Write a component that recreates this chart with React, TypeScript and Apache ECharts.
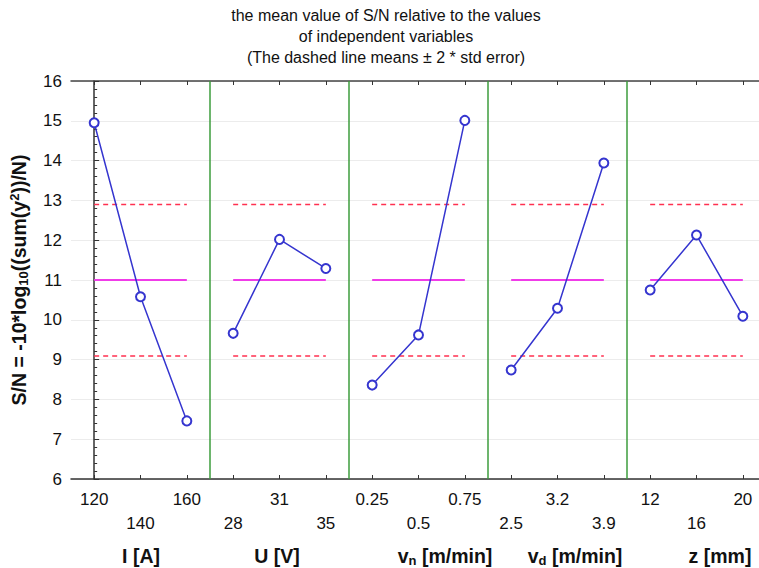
import React, { useEffect, useRef } from "react";
import * as echarts from "echarts";

const categories = ["120", "140", "160", "28", "31", "35", "0.25", "0.5", "0.75", "2.5", "3.2", "3.9", "12", "16", "20"];
const snI = [14.95, 10.58, 7.46];
const snU = [9.66, 12.02, 11.29];
const snVn = [8.36, 9.62, 15.01];
const snVd = [8.74, 10.29, 13.94];
const snZ = [10.75, 12.13, 10.09];
const panels = [snI, snU, snVn, snVd, snZ];
const meanSN = 11.0;
const upperLimit = 12.9;
const lowerLimit = 9.09;
const dividers = [2.5, 5.5, 8.5, 11.5];
const titleLines = [
  "the mean value of S/N relative to the values",
  "of independent variables",
  "(The dashed line means \u00b1 2 * std error)",
];

const FONT = "'Liberation Sans', Arial, sans-serif";
const BLUE = "#3535cf";
const MAGENTA = "#f03ce8";
const RED = "#ff3050";
const GREEN = "#3d9c3d";

export default function App() {
  const ref = useRef<HTMLDivElement>(null);
  useEffect(() => {
    const chart = echarts.init(ref.current!, null, { renderer: "svg" });
    const series: any[] = [];
    panels.forEach((vals, p) => {
      const x0 = p * 3;
      series.push({
        type: "line",
        xAxisIndex: 1,
        yAxisIndex: 0,
        data: vals.map((v, i) => [x0 + i, v]),
        symbol: "emptyCircle",
        symbolSize: 9,
        color: BLUE,
        lineStyle: { color: BLUE, width: 1.5 },
        itemStyle: { color: BLUE, borderWidth: 1.5 },
        z: 5,
      });
      series.push({
        type: "line",
        xAxisIndex: 1,
        data: [[x0, meanSN], [x0 + 2, meanSN]],
        symbol: "none",
        lineStyle: { color: MAGENTA, width: 1.8 },
        z: 3,
      });
      [upperLimit, lowerLimit].forEach((lv) => {
        series.push({
          type: "line",
          xAxisIndex: 1,
          data: [[x0, lv], [x0 + 2, lv]],
          symbol: "none",
          lineStyle: { color: RED, width: 1.5, type: [5, 4] },
          z: 3,
        });
      });
    });
    series.push({
      type: "line",
      xAxisIndex: 1,
      data: [],
      markLine: {
        silent: true,
        symbol: "none",
        label: { show: false },
        lineStyle: { color: GREEN, width: 1.5, type: "solid" },
        data: dividers.map((d) => ({ xAxis: d })),
      },
    });

    const nameStyle = { fontFamily: FONT, fontSize: 19.5, fontWeight: "bold", fill: "#111" };
    const subRich = { sub: { fontFamily: FONT, fontSize: 13, fontWeight: "bold", fill: "#111", padding: [9, 0, 0, 0] } };
    const axisNames = [
      { text: "I [A]", x: 141 },
      { text: "U [V]", x: 277 },
      { text: "v{sub|n} [m/min]", x: 445 },
      { text: "v{sub|d} [m/min]", x: 575 },
      { text: "z [mm]", x: 720 },
    ];

    chart.setOption({
      animation: false,
      backgroundColor: "#ffffff",
      grid: { left: 71, top: 81, right: 0, bottom: 89, containLabel: false },
      xAxis: [
        {
          type: "category",
          data: categories,
          boundaryGap: true,
          position: "bottom",
          axisLine: { show: true, lineStyle: { color: "#333", width: 1.5 } },
          axisTick: { show: true, inside: true, alignWithLabel: true, length: 4, lineStyle: { color: "#333" } },
          axisLabel: {
            interval: 0,
            margin: 8,
            fontFamily: FONT,
            fontSize: 17,
            color: "#111",
            lineHeight: 24,
            hideOverlap: false,
            formatter: (v: string, i: number) => (i % 2 === 0 ? v : "\n" + v),
          },
          splitLine: { show: false },
        },
        {
          type: "value",
          min: -0.5,
          max: 14.5,
          show: false,
        },
        {
          type: "category",
          data: categories,
          boundaryGap: true,
          position: "top",
          axisLine: { show: true, lineStyle: { color: "#444", width: 1.5 } },
          axisTick: { show: true, inside: true, alignWithLabel: true, length: 4, lineStyle: { color: "#333" } },
          axisLabel: { show: false },
          splitLine: { show: false },
        },
      ],
      yAxis: [
        {
          type: "value",
          min: 6,
          max: 16,
          interval: 1,
          axisLine: { show: true, lineStyle: { color: "#333", width: 1.5 } },
          axisTick: { show: true, inside: true, length: 5, lineStyle: { color: "#333" } },
          minorTick: { show: true, splitNumber: 5, length: 3, lineStyle: { color: "#333" } },
          splitLine: { show: true, lineStyle: { color: "#ececec", width: 1 } },
          axisLabel: { fontFamily: FONT, fontSize: 17, color: "#111", margin: 9 },
          name: "S/N = -10*log{sub|10}((sum(y{sup|2}))/N)",
          nameLocation: "middle",
          nameRotate: 90,
          nameGap: 41,
          nameTextStyle: {
            fontFamily: FONT,
            fontSize: 19.5,
            fontWeight: "bold",
            color: "#111",
            rich: {
              sub: { fontFamily: FONT, fontSize: 13, fontWeight: "bold", color: "#111", padding: [10, 0, 0, 0] },
              sup: { fontFamily: FONT, fontSize: 13, fontWeight: "bold", color: "#111", padding: [0, 0, 8, 0] },
            },
          },
        },
      ],
      graphic: [
        ...titleLines.map((t, i) => ({
          type: "text",
          x: 386,
          y: [15, 36, 57][i],
          style: { text: t, fontFamily: FONT, fontSize: 16, fill: "#111", textAlign: "center", textVerticalAlign: "middle" },
        })),
        ...axisNames.map((a) => ({
          type: "text",
          x: a.x,
          y: 556,
          style: { ...nameStyle, text: a.text, rich: subRich, textAlign: "center", textVerticalAlign: "middle" },
        })),
      ],
      series,
    });
    return () => chart.dispose();
  }, []);
  return (
    <div style={{ position: "absolute", left: 0, top: 0, width: 759, height: 568, overflow: "hidden", background: "#fff" }}>
      <div ref={ref} style={{ position: "absolute", left: 0, top: 0, width: 766, height: 568 }} />
    </div>
  );
}
